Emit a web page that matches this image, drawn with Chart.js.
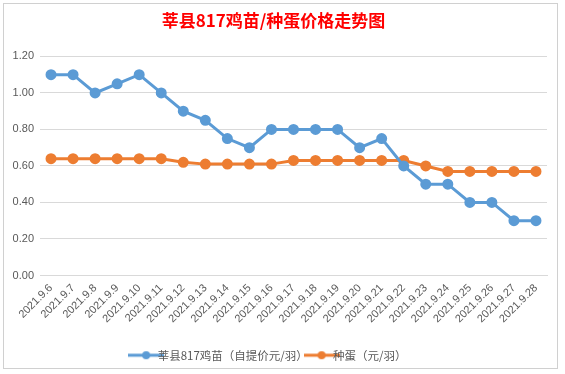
<!DOCTYPE html>
<html><head><meta charset="utf-8">
<script src="https://cdn.jsdelivr.net/npm/chart.js@4"></script>
<style>html,body{margin:0;padding:0;background:#fff;}#wrap{width:565px;height:374px;position:relative;}</style>
</head><body><div id="wrap"><canvas id="c" width="565" height="374"></canvas></div>
<script>
const titleText = '莘县817鸡苗/种蛋价格走势图';
const categories = ['2021.9.6','2021.9.7','2021.9.8','2021.9.9','2021.9.10','2021.9.11','2021.9.12','2021.9.13','2021.9.14','2021.9.15','2021.9.16','2021.9.17','2021.9.18','2021.9.19','2021.9.20','2021.9.21','2021.9.22','2021.9.23','2021.9.24','2021.9.25','2021.9.26','2021.9.27','2021.9.28'];
const chickName = '莘县817鸡苗（自提价元/羽）';
const chickPrice = [1.10,1.10,1.00,1.05,1.10,1.00,0.90,0.85,0.75,0.70,0.80,0.80,0.80,0.80,0.70,0.75,0.60,0.50,0.50,0.40,0.40,0.30,0.30];
const eggName = '种蛋（元/羽）';
const eggPrice = [0.64,0.64,0.64,0.64,0.64,0.64,0.62,0.61,0.61,0.61,0.61,0.63,0.63,0.63,0.63,0.63,0.63,0.60,0.57,0.57,0.57,0.57,0.57];

function legendIcon(color){
  const cv=document.createElement('canvas');cv.width=36;cv.height=10;
  const g=cv.getContext('2d');
  g.strokeStyle=color;g.lineWidth=3;g.beginPath();g.moveTo(0,5);g.lineTo(36,5);g.stroke();
  g.fillStyle=color;g.beginPath();g.arc(18,5,4,0,Math.PI*2);g.fill();
  return cv;
}
const blue='#5B9BD5', orange='#ED7D31';
const borderPlugin={id:'border',beforeDraw(ch){const c=ch.ctx;c.save();c.fillStyle='#fff';c.fillRect(0,0,565,374);c.strokeStyle='#d0d0d0';c.lineWidth=1;c.strokeRect(3.5,3.5,554,365);c.restore();}};
new Chart(document.getElementById('c'),{
  type:'line',
  data:{labels:categories,datasets:[
    {label:chickName,data:chickPrice,borderColor:blue,backgroundColor:blue,borderWidth:3,pointRadius:4,pointHoverRadius:4,pointStyle:'circle',tension:0},
    {label:eggName,data:eggPrice,borderColor:orange,backgroundColor:orange,borderWidth:3,pointRadius:4,pointHoverRadius:4,pointStyle:'circle',tension:0}
  ]},
  options:{responsive:false,animation:false,
    layout:{padding:{left:0,right:18,top:6,bottom:3}},
    plugins:{
      title:{display:true,text:titleText,color:'#FF0000',font:{family:'"Noto Sans CJK SC"',size:17,weight:'bold'},padding:{top:4,bottom:26}},
      legend:{position:'bottom',labels:{color:'#595959',font:{family:'"Noto Sans CJK SC"',size:11.5},usePointStyle:true,padding:8,
        generateLabels(ch){return ch.data.datasets.map((d,i)=>({text:d.label,pointStyle:legendIcon(d.borderColor),fillStyle:d.borderColor,strokeStyle:d.borderColor,lineWidth:0,datasetIndex:i,fontColor:'#595959'}));}}},
      tooltip:{enabled:false}
    },
    scales:{
      x:{offset:true,grid:{display:false,drawTicks:false},border:{display:true,color:'#d9d9d9'},
        ticks:{color:'#595959',font:{family:'"Liberation Sans"',size:11},minRotation:45,maxRotation:45,autoSkip:false,padding:6},
        afterFit(s){s.height=66;}},
      y:{min:0,max:1.2,grid:{color:'#d9d9d9',drawTicks:false},border:{display:false},
        ticks:{stepSize:0.2,color:'#595959',font:{family:'"Liberation Sans"',size:11},padding:6,callback:v=>v.toFixed(2)},
        afterFit(s){s.width=40;}}
    }
  },
  plugins:[borderPlugin]
});
</script></body></html>
